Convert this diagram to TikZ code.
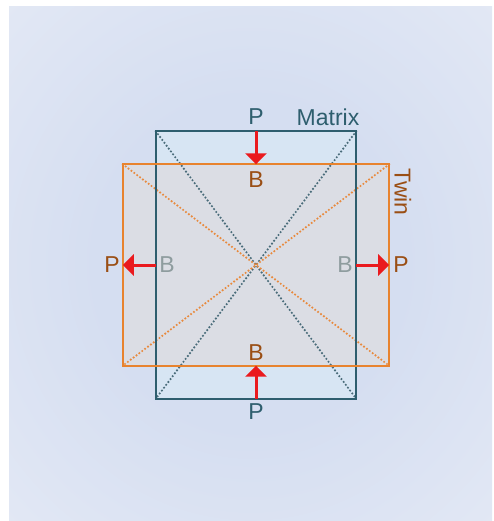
\documentclass[tikz,border=0pt]{standalone}
\usepackage{fontspec}
\setmainfont{Liberation Sans}
\usetikzlibrary{arrows.meta}
\definecolor{matcol}{HTML}{2E5E6E}
\definecolor{matdot}{HTML}{4A6C7A}
\definecolor{twincol}{HTML}{E8832E}
\definecolor{twindot}{HTML}{E88A3E}
\definecolor{browntxt}{HTML}{9A4E14}
\definecolor{graytxt}{HTML}{8E9C9E}
\definecolor{arrred}{HTML}{EA1A1E}
\definecolor{bgin}{HTML}{D5DEF1}
\definecolor{bgmid}{HTML}{E1E7F4}
\definecolor{bgout}{HTML}{EDF0F8}
\definecolor{bgcorner}{HTML}{F3F5FB}
\definecolor{matfill}{HTML}{D7E5F3}
\definecolor{twinfill}{HTML}{DCDDE3}
\pgfdeclareradialshading{bgshade}{\pgfpoint{0bp}{0bp}}{color(0bp)=(bgin); color(16bp)=(bgin); color(34bp)=(bgmid); color(50bp)=(bgout); color(71bp)=(bgcorner)}
\tikzset{
  lbl/.style={font=\fontsize{23}{23}\selectfont, inner sep=0pt},
  push/.style={draw=arrred, line width=3pt, -{Triangle[width=21pt,length=11pt]}},
  diag/.style={line width=2.4pt, line cap=round, dash pattern=on 0pt off 3.6pt},
}
\begin{document}
\begin{tikzpicture}[x=1pt,y=-1pt]
\useasboundingbox (0,0) rectangle (493,521);
\fill[white] (0,0) rectangle (493,521);
\shade[shading=bgshade] (9,7) rectangle (492,520);
% rectangles (fills)
\node[fill=matfill, minimum width=200pt, minimum height=267pt, inner sep=0pt] (matrix) at (256,265) {};
\node[fill=twinfill, fill opacity=0.92, minimum width=266pt, minimum height=201pt, inner sep=0pt] (twin) at (256,265) {};
% diagonals
\draw[diag, matdot] (matrix.north west) -- (matrix.south east);
\draw[diag, matdot] (matrix.north east) -- (matrix.south west);
\draw[diag, twindot] (twin.north west) -- (twin.south east);
\draw[diag, twindot] (twin.north east) -- (twin.south west);
% borders
\draw[matcol, line width=2pt] (matrix.north west) rectangle (matrix.south east);
\draw[twincol, line width=2pt] (twin.north west) rectangle (twin.south east);
% arrows
\draw[push] (matrix.north) -- (twin.north);
\draw[push] (matrix.south) -- (twin.south);
\draw[push] (matrix.west) -- (twin.west);
\draw[push] (matrix.east) -- (twin.east);
% labels
\node[lbl, text=matcol] (ptop) at (256,117) {P};
\node[lbl, text=matcol] (matlbl) at (328,117) {Matrix};
\node[lbl, text=browntxt] (btop) at (256,180) {B};
\node[lbl, text=browntxt] (bbot) at (256,353) {B};
\node[lbl, text=matcol] (pbot) at (256,412) {P};
\node[lbl, text=browntxt] (pleft) at (112,265) {P};
\node[lbl, text=graytxt] (bleft) at (167,265) {B};
\node[lbl, text=graytxt] (bright) at (345,265) {B};
\node[lbl, text=browntxt] (pright) at (401,265) {P};
\node[lbl, text=browntxt, rotate=-90] (twinlbl) at (403,192) {Twin};
\end{tikzpicture}
\end{document}
